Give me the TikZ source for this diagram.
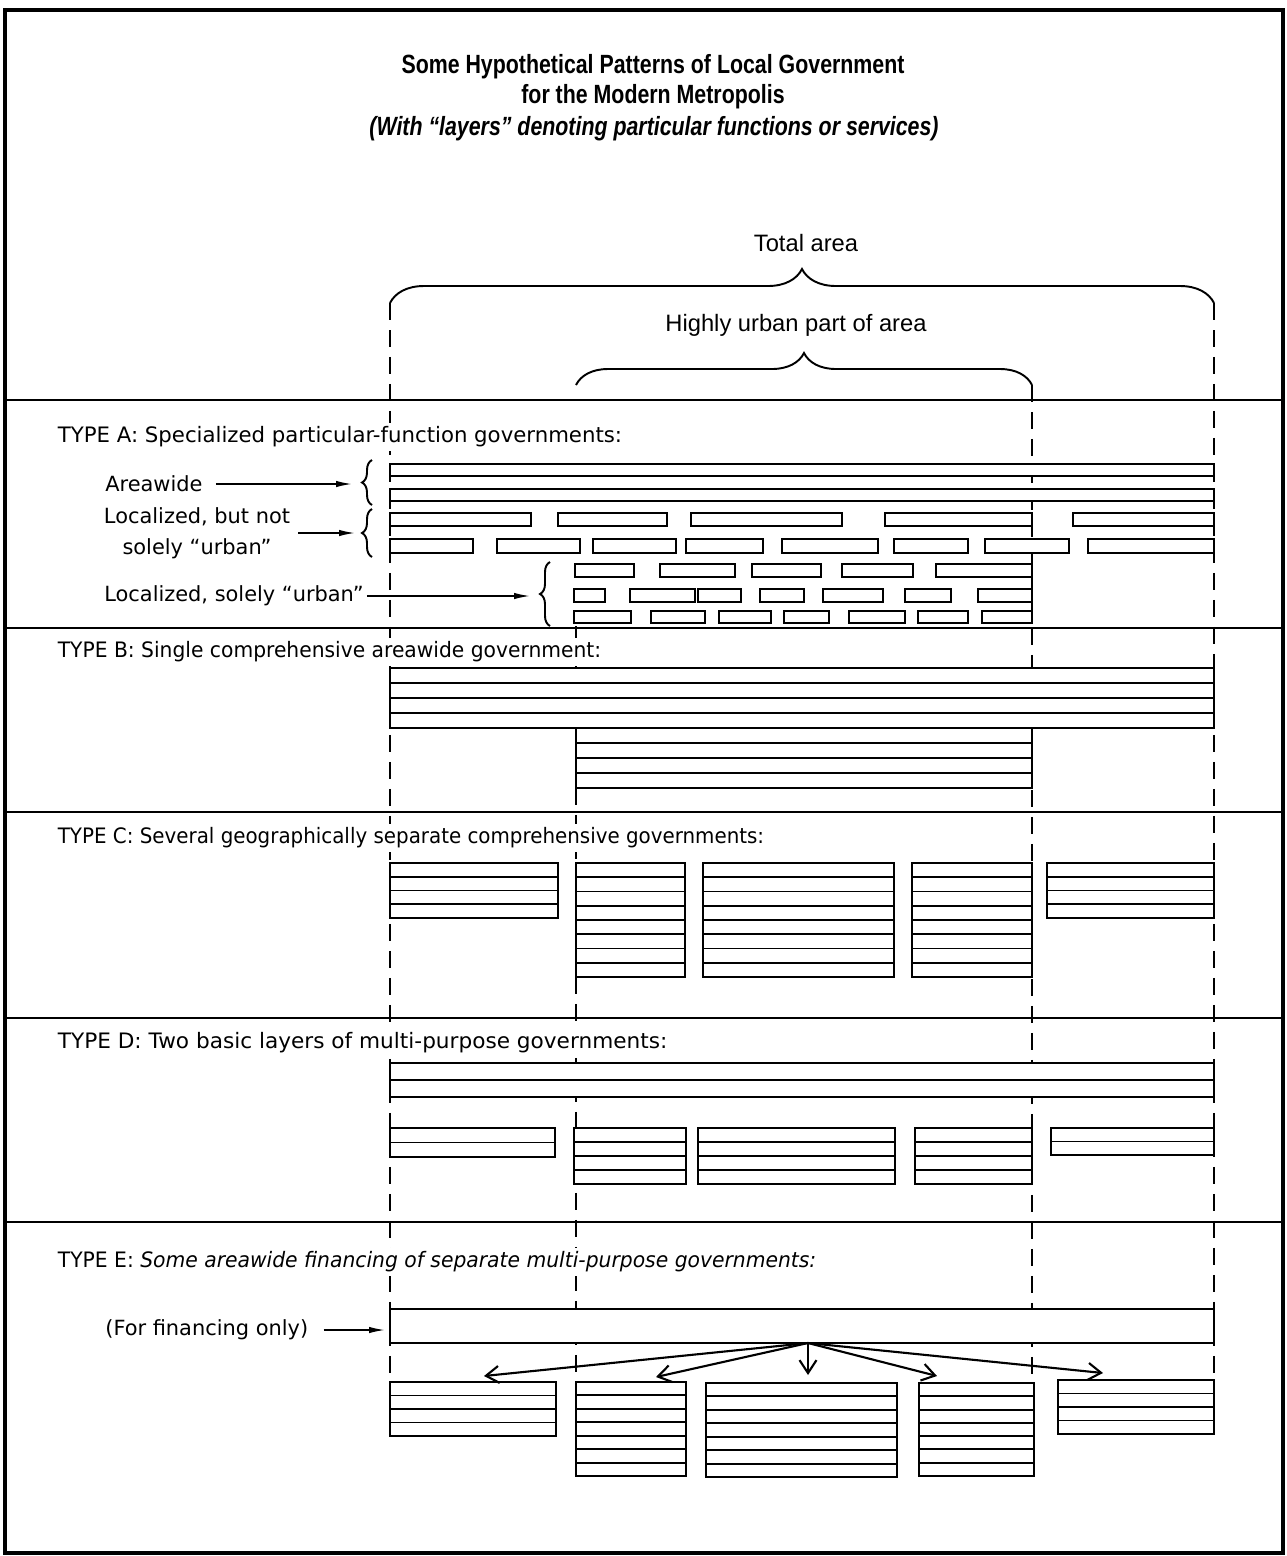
\documentclass[tikz,border=0pt]{standalone}
\usepackage{fontspec}
\setmainfont{DejaVu Sans}
\newfontfamily\headfont{Liberation Sans}
\usetikzlibrary{arrows.meta, calc, positioning, decorations.pathreplacing}

\tikzset{
  bar/.style={draw, fill=white, line width=1.1pt},
  layer/.style={line width=1.1pt},
  guide/.style={line width=0.8pt, dash pattern=on 3.4mm off 2mm},
  divider/.style={line width=1.3pt},
  typelabel/.style={anchor=west, fill=white, inner sep=2pt, font=\fontsize{12.1}{14}\selectfont},
  sidelabel/.style={inner sep=0pt, font=\fontsize{11.9}{17.6}\selectfont},
  arealabel/.style={inner sep=0pt, font=\headfont\fontsize{13.5}{16}\selectfont},
  titlelabel/.style={inner sep=0pt, font=\headfont\bfseries\fontsize{15}{18}\selectfont},
  pointer/.style={-{Latex[length=3.2mm,width=1.3mm]}, line width=0.9pt},
  share/.style={-{Straight Barb[length=2.6mm,width=3.4mm]}, line width=1.2pt},
  areabrace/.style={decorate, decoration={brace, amplitude=#1}, line width=1.1pt},
}

% box of stacked layers: x1, y1, x2, y2, number of layers
\newcommand{\govbox}[5]{%
  \draw[bar] (#1,#2) rectangle (#3,#4);
  \ifnum#5>1
    \foreach \k in {2,...,#5}
      \draw[layer] (#1,{#2+(\k-1)*(#4-#2)/#5}) -- (#3,{#2+(\k-1)*(#4-#2)/#5});
  \fi}

\begin{document}
\begin{tikzpicture}[x=0.02cm, y=-0.02cm]
  \useasboundingbox (0,0) rectangle (1287,1556);
  \draw[line width=2.3pt] (5,10) rectangle (1283,1553);

  % title
  \node[titlelabel] (title) at (653,67) {\scalebox{0.81}[1]{Some Hypothetical Patterns of Local Government}};
  \node[titlelabel] (title2) at (653,97) {\scalebox{0.81}[1]{for the Modern Metropolis}};
  \node[titlelabel, font=\headfont\bfseries\itshape\fontsize{15}{18}\selectfont] (subtitle) at (654,129)
    {\scalebox{0.81}[1]{(With “layers” denoting particular functions or services)}};

  % area braces
  \node[arealabel] (total) at (806,243) {Total area};
  \node[arealabel] (urban) at (796,325) {Highly urban part of area};
  \draw[areabrace=0.68cm] (390,303) -- (1214,303);
  \draw[areabrace=0.64cm] (576,385) -- (1032,385);

  % section rules
  \draw[divider] (5,400) -- (1283,400);
  \draw[divider] (5,628) -- (1283,628);
  \draw[divider] (5,812) -- (1283,812);
  \draw[divider] (5,1018) -- (1283,1018);
  \draw[divider] (5,1222) -- (1283,1222);

  % guide lines
  \draw[guide] (390,303) -- (390,1382);
  \draw[guide] (1214,303) -- (1214,1380);
  \draw[guide] (576,626) -- (576,1382);
  \draw[guide] (1032,385) -- (1032,1380);

  % TYPE A
  \node[typelabel] (typeA) at (54,437) {TYPE A: Specialized particular-function governments:};
  \draw[bar] (390,464) rectangle (1214,476);
  \draw[bar] (390,489) rectangle (1214,501);
  \draw[bar] (390,513) rectangle (531,526) (558,513) rectangle (667,526)
    (691,513) rectangle (842,526) (885,513) rectangle (1032,526)
    (1073,513) rectangle (1214,526);
  \draw[bar] (390,539) rectangle (473,553) (497,539) rectangle (580,553)
    (593,539) rectangle (676,553) (686,539) rectangle (763,553)
    (782,539) rectangle (878,553) (894,539) rectangle (968,553)
    (985,539) rectangle (1069,553) (1088,539) rectangle (1214,553);
  \draw[bar] (575,564) rectangle (634,577) (660,564) rectangle (735,577)
    (752,564) rectangle (821,577) (842,564) rectangle (913,577)
    (936,564) rectangle (1032,577);
  \draw[bar] (574,589) rectangle (605,602) (630,589) rectangle (695,602)
    (698,589) rectangle (741,602) (760,589) rectangle (804,602)
    (823,589) rectangle (883,602) (905,589) rectangle (951,602)
    (978,589) rectangle (1032,602);
  \draw[bar] (574,611) rectangle (631,623) (651,611) rectangle (705,623)
    (719,611) rectangle (771,623) (784,611) rectangle (829,623)
    (849,611) rectangle (905,623) (918,611) rectangle (968,623)
    (982,611) rectangle (1032,623);
  \draw[areabrace=0.2cm] (372,505) -- (372,460);
  \draw[areabrace=0.2cm] (372,557) -- (372,509);
  \draw[areabrace=0.2cm] (550,626) -- (550,562);
  \coordinate (wideend) at (352,484);
  \coordinate (localend) at (355,533);
  \coordinate (urbanend) at (530,596);
  \node[sidelabel, anchor=west] (areawide) at (105,484) {Areawide};
  \node[sidelabel, align=center] (localized) at (197,533) {Localized, but not\\solely “urban”};
  \node[sidelabel, anchor=west] (urbanonly) at (104,596) {Localized, solely “urban”};
  \draw[pointer, shorten <=0.26cm] (areawide.east) -- (wideend);
  \draw[pointer, shorten <=0.16cm] (localized.east |- localend) -- (localend);
  \draw[pointer, shorten <=0.06cm] (urbanonly.east) -- (urbanend);

  % TYPE B
  \node[typelabel] (typeB) at (54,652) {\scalebox{0.953}[1]{TYPE B: Single comprehensive areawide government:}};
  \govbox{390}{668}{1214}{728}{4}
  \govbox{576}{728}{1032}{788}{4}

  % TYPE C
  \node[typelabel] (typeC) at (54,838) {\scalebox{0.934}[1]{TYPE C: Several geographically separate comprehensive governments:}};
  \govbox{390}{863}{558}{918}{4}
  \govbox{576}{863}{685}{977}{8}
  \govbox{703}{863}{894}{977}{8}
  \govbox{912}{863}{1032}{977}{8}
  \govbox{1047}{863}{1214}{918}{4}

  % TYPE D
  \node[typelabel] (typeD) at (54,1043) {\scalebox{1.017}[1]{TYPE D: Two basic layers of multi-purpose governments:}};
  \govbox{390}{1063}{1214}{1097}{2}
  \govbox{390}{1128}{555}{1157}{2}
  \govbox{574}{1128}{686}{1184}{4}
  \govbox{698}{1128}{895}{1184}{4}
  \govbox{915}{1128}{1032}{1184}{4}
  \govbox{1051}{1128}{1214}{1155}{2}

  % TYPE E
  \node[typelabel] (typeE) at (54,1262) {\scalebox{0.955}[1]{TYPE E: \textit{Some areawide financing of separate multi-purpose governments:}}};
  \govbox{390}{1309}{1214}{1343}{1}
  \govbox{390}{1382}{556}{1436}{4}
  \govbox{576}{1382}{686}{1476}{7}
  \govbox{706}{1383}{897}{1477}{7}
  \govbox{919}{1383}{1034}{1476}{7}
  \govbox{1058}{1380}{1214}{1434}{4}
  \coordinate (fundend) at (385,1330);
  \node[sidelabel, anchor=west] (financing) at (105,1330) {(For financing only)};
  \draw[pointer, shorten <=0.3cm] (financing.east) -- (fundend);
  \coordinate (fund) at (808,1343);
  \coordinate (share1) at (484,1376);
  \coordinate (share2) at (656,1377);
  \coordinate (share3) at (808,1375);
  \coordinate (share4) at (937,1376);
  \coordinate (share5) at (1103,1373);
  \draw[share] (fund) -- (share1);
  \draw[share] (fund) -- (share2);
  \draw[share] (fund) -- (share3);
  \draw[share] (fund) -- (share4);
  \draw[share] (fund) -- (share5);
\end{tikzpicture}
\end{document}
